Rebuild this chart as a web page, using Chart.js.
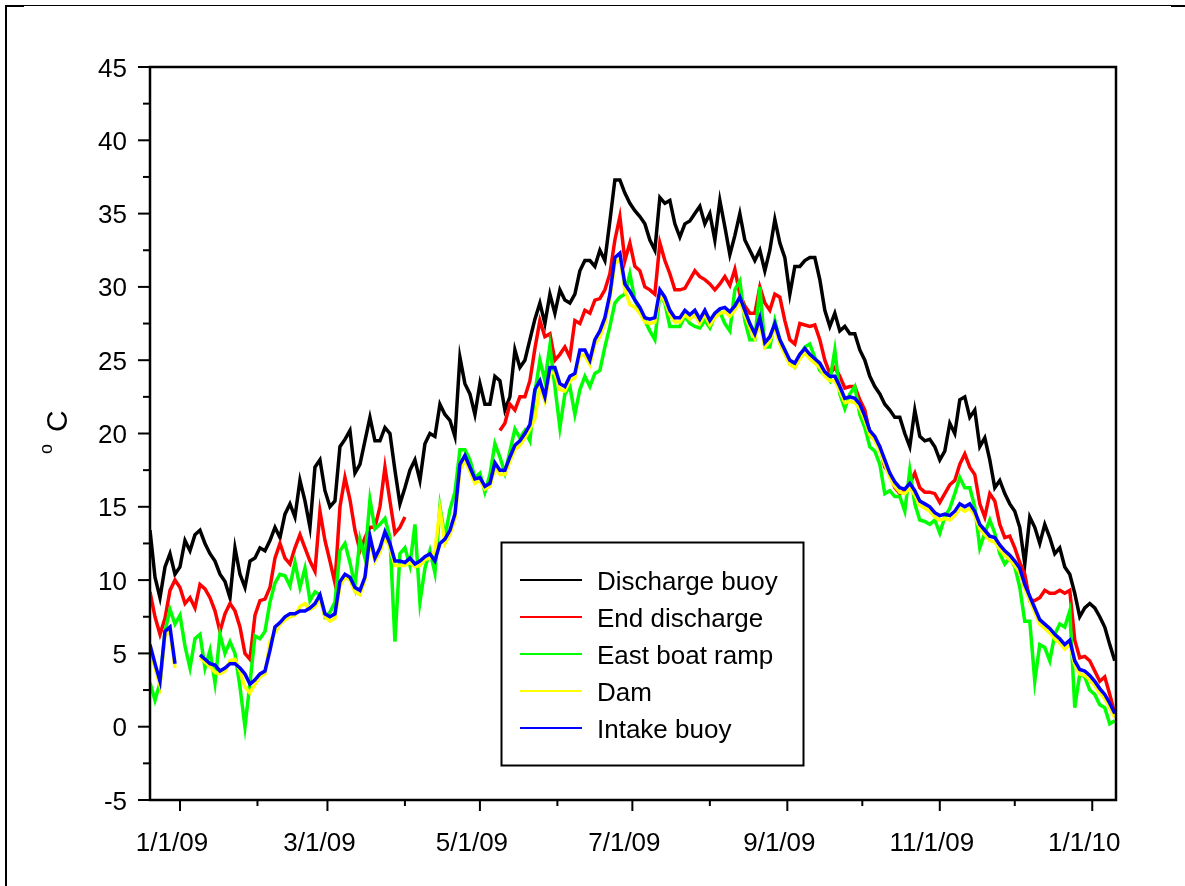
<!DOCTYPE html>
<html>
<head>
<meta charset="utf-8">
<script src="https://cdn.jsdelivr.net/npm/chart.js@4/dist/chart.umd.min.js"></script>
<style>
  html, body { margin: 0; padding: 0; background: #fff; }
  canvas { display: block; }
</style>
</head>
<body>
<canvas id="c" width="1185" height="886"></canvas>
<script>
// Water temperature (°C), sampled every 2 days starting 12 days before 1/1/09
const firstDay = -12;
const dayStep = 2;

const seriesNames = ['Discharge buoy', 'End discharge', 'East boat ramp', 'Dam', 'Intake buoy'];
const seriesColors = ['#000000', '#ff0000', '#00ff00', '#ffff00', '#0000ff'];

const dischargeBuoy = [
  13.4,10.2,8.8,10.9,11.8,10.4,10.9,12.7,12.0,13.1,
  13.4,12.5,11.8,11.3,10.4,9.9,8.8,12.2,10.4,9.5,
  11.3,11.5,12.2,12.0,12.7,13.6,12.9,14.5,15.2,14.3,
  16.8,15.4,13.6,17.7,18.2,16.1,15.0,15.4,19.1,19.6,
  20.2,17.3,17.9,19.5,21.1,19.5,19.5,20.4,20.0,17.5,
  15.2,16.3,17.5,18.2,16.8,19.3,20.0,19.8,22.0,21.3,
  20.9,19.8,25.2,23.4,22.7,21.3,23.4,22.0,22.0,23.9,
  23.6,21.6,22.5,25.7,24.5,25.0,26.4,27.8,28.9,27.5,
  29.5,28.2,29.8,29.1,28.9,29.5,31.1,31.8,31.8,31.4,
  32.5,31.8,34.5,37.3,37.3,36.4,35.7,35.2,34.8,34.3,
  33.2,32.5,36.1,35.7,35.9,34.3,33.4,34.3,34.5,35.0,
  35.5,34.3,35.0,33.2,35.9,34.1,32.2,33.5,35.0,33.2,
  32.5,31.8,32.5,31.1,32.5,34.6,33.0,32.0,29.5,31.4,
  31.4,31.8,32.0,32.0,30.5,28.4,27.3,28.2,27.0,27.3,
  26.8,26.8,25.7,25.0,23.9,23.2,22.7,22.0,21.6,21.1,
  21.1,20.0,19.1,21.6,19.8,19.5,19.6,19.1,18.2,18.8,
  20.7,20.0,22.3,22.5,21.1,21.6,19.1,19.7,18.2,16.3,
  16.8,15.9,15.2,14.7,13.6,11.1,14.3,13.6,12.5,13.8,
  12.9,11.8,12.2,10.9,10.4,9.1,7.5,8.1,8.4,8.1,
  7.5,6.8,5.6,4.5
];

const endDischarge = [
  9.2,7.5,6.3,7.4,9.3,10.0,9.5,8.4,8.8,8.1,
  9.7,9.4,8.8,7.9,6.5,7.7,8.4,7.9,6.8,5.0,
  4.6,7.6,8.6,8.7,9.5,11.5,12.5,11.5,11.1,12.2,
  13.1,12.2,11.3,10.6,14.7,12.7,11.3,9.8,15.0,17.0,
  15.5,13.4,12.0,12.9,13.6,13.6,15.0,17.7,15.4,13.2,
  13.6,14.3,null,null,null,null,null,null,null,null,
  null,null,null,null,null,null,null,null,null,null,
  20.2,20.7,22.0,21.6,22.5,22.5,23.6,25.8,27.7,26.6,
  26.8,25.0,25.4,25.9,25.2,27.7,27.5,28.4,28.2,29.1,
  29.2,29.8,30.9,33.2,34.8,31.8,33.0,31.4,31.1,30.0,
  29.8,29.5,33.0,31.8,30.9,29.8,29.8,29.9,30.5,31.1,
  30.7,30.5,30.2,29.8,30.2,30.7,30.1,31.2,29.5,28.7,
  28.2,28.2,30.0,28.9,28.4,29.5,29.3,27.7,26.4,26.1,
  27.5,27.4,27.3,27.4,26.4,25.0,24.1,24.5,23.9,23.1,
  23.2,23.2,22.3,21.6,20.0,19.6,19.1,17.7,17.3,16.3,
  15.9,16.1,16.6,17.3,16.3,16.0,16.0,15.9,15.3,15.9,
  16.5,16.8,17.9,18.6,17.7,17.2,15.2,14.3,15.9,15.4,
  13.8,12.9,13.0,12.2,11.2,10.4,8.6,8.6,8.8,9.3,
  9.1,9.1,9.3,9.1,9.3,5.9,4.7,4.8,4.5,3.8,
  3.1,3.4,2.2,0.9
];

const eastBoatRamp = [
  3.0,1.8,3.0,6.5,8.0,7.0,7.6,5.5,4.0,6.0,
  6.3,4.0,5.2,3.0,6.3,5.0,5.8,5.0,2.7,0.0,
  3.0,6.2,6.0,6.5,8.5,9.8,10.4,10.3,9.6,11.2,
  9.5,10.8,8.6,9.2,9.0,7.5,7.8,8.5,12.0,12.5,
  11.2,9.6,12.8,11.5,15.5,13.5,13.8,14.2,12.9,5.8,
  11.8,12.2,11.0,13.8,8.5,10.8,12.0,10.5,15.0,12.9,
  14.8,16.0,18.9,18.9,18.2,17.0,17.3,16.0,17.2,19.3,
  18.4,17.3,18.8,20.3,19.7,20.2,19.5,22.8,25.0,23.6,
  26.0,23.2,20.4,22.7,23.2,21.3,23.0,23.9,23.2,24.1,
  24.3,25.9,27.3,28.9,29.3,29.5,30.9,29.1,28.4,27.7,
  27.0,26.4,29.5,28.9,27.3,27.3,27.3,28.0,27.5,27.3,
  27.2,27.7,27.2,28.0,28.3,27.5,27.0,29.8,30.4,27.7,
  26.4,26.4,30.0,25.9,25.9,27.7,26.4,25.7,24.8,24.5,
  25.2,25.9,26.1,25.2,24.3,24.0,23.6,25.7,22.7,21.7,
  22.7,23.2,21.3,20.4,19.1,18.8,17.9,15.9,16.1,15.7,
  15.7,14.7,17.5,15.2,14.1,14.0,13.8,14.1,13.2,14.3,
  14.9,15.9,17.0,16.3,16.3,15.0,12.2,13.2,14.1,13.2,
  11.8,11.1,11.5,10.9,9.5,7.2,7.2,3.1,5.6,5.4,
  4.5,6.3,7.0,6.8,7.9,1.3,3.6,3.4,2.5,2.2,
  1.5,1.3,0.2,0.4
];

const dam = [
  5.3,4.0,2.8,6.2,6.5,4.0,null,null,null,null,
  4.7,4.4,4.1,3.7,3.6,3.8,4.5,4.6,3.8,2.7,
  2.3,2.9,3.4,3.6,5.8,6.4,7.0,7.3,7.5,7.6,
  8.2,8.4,8.0,8.2,8.8,7.5,7.2,7.4,9.6,10.2,
  10.0,9.2,9.0,10.0,12.7,11.3,11.9,13.0,12.2,11.0,
  11.0,11.0,11.2,10.9,11.0,11.4,11.5,12.0,14.8,12.5,
  13.1,14.2,17.5,18.2,17.4,16.6,16.8,16.2,16.4,17.7,
  17.2,17.2,18.1,18.9,19.2,19.7,20.3,21.0,23.2,22.2,
  24.2,24.1,23.0,22.9,23.6,23.8,25.4,25.3,24.7,26.1,
  26.6,27.5,29.2,31.6,31.9,29.8,28.8,28.6,28.2,27.6,
  27.5,27.6,29.5,29.0,28.1,27.6,27.6,28.1,27.8,28.1,
  27.5,28.1,27.4,27.9,28.2,28.3,28.0,28.4,29.0,28.1,
  27.2,26.5,27.6,25.9,26.3,27.2,26.1,25.4,24.7,24.5,
  25.1,25.5,25.1,24.8,24.5,23.9,23.6,23.6,22.9,22.1,
  22.2,22.1,21.7,20.9,19.9,19.5,18.8,17.9,17.0,16.4,
  16.0,15.9,16.3,15.8,15.1,14.9,14.7,14.3,14.1,14.2,
  14.1,14.4,14.9,14.7,14.9,14.4,13.5,13.1,12.7,12.6,
  12.1,11.7,11.4,11.0,10.5,9.4,8.6,7.8,7.0,6.7,
  6.4,6.0,5.7,5.3,5.6,4.2,3.6,3.5,3.2,2.8,
  2.3,1.9,1.3,0.6
];

const intakeBuoy = [
  5.6,4.3,3.1,6.5,6.8,4.3,null,null,null,null,
  4.9,4.6,4.3,4.2,3.8,4.0,4.3,4.3,4.0,3.6,
  2.9,3.2,3.6,3.8,5.2,6.8,7.1,7.5,7.7,7.7,
  7.9,7.9,8.1,8.4,9.0,7.7,7.5,7.7,9.9,10.4,
  10.2,9.5,9.3,10.2,13.0,11.5,12.2,13.3,12.5,11.3,
  11.3,11.2,11.5,11.1,11.3,11.6,11.8,11.3,12.5,12.8,
  13.4,14.5,17.9,18.5,17.7,16.9,17.0,16.4,16.6,18.0,
  17.5,17.5,18.4,19.2,19.5,20.0,20.6,23.0,23.6,22.5,
  24.5,24.5,23.4,23.2,23.9,24.1,25.7,25.7,25.0,26.4,
  27.0,27.9,29.5,32.0,32.3,30.2,29.7,29.1,28.6,27.9,
  27.8,27.9,29.8,29.3,28.4,27.9,27.9,28.4,28.1,28.4,
  27.8,28.4,27.7,28.2,28.5,28.6,28.3,28.7,29.3,28.4,
  27.5,26.8,27.9,26.2,26.6,27.5,26.4,25.7,25.0,24.8,
  25.4,25.8,25.4,25.1,24.8,24.2,23.9,23.9,23.2,22.4,
  22.5,22.4,22.0,21.2,20.2,19.8,19.1,18.2,17.3,16.7,
  16.3,16.2,16.6,16.1,15.4,15.2,15.0,14.6,14.4,14.5,
  14.4,14.7,15.2,15.0,15.2,14.7,13.8,13.4,13.0,12.9,
  12.4,12.0,11.7,11.3,10.8,9.7,8.9,8.1,7.3,7.0,
  6.7,6.3,6.0,5.6,5.9,4.5,3.9,3.8,3.5,3.1,
  2.6,2.2,1.6,0.9
];

// Axis ticks: day offsets of month starts (from 1/1/09) and their labels
const monthStartDays = [0, 31, 59, 90, 120, 151, 181, 212, 243, 273, 304, 334, 365];
const monthLabels = ['1/1/09', '', '3/1/09', '', '5/1/09', '', '7/1/09', '', '9/1/09', '', '11/1/09', '', '1/1/10'];
const yTickValues = [-5, 0, 5, 10, 15, 20, 25, 30, 35, 40, 45];

const allSeries = [dischargeBuoy, endDischarge, eastBoatRamp, dam, intakeBuoy];
const days = dischargeBuoy.map((_, i) => firstDay + i * dayStep);

const FONT = '"Liberation Sans", Arial, Helvetica, sans-serif';

// Frame, ticks, labels, legend and page border drawn on top of the plotted lines
const decorations = {
  id: 'decorations',
  beforeDraw(chart) {
    const ctx = chart.ctx;
    ctx.save();
    ctx.fillStyle = '#ffffff';
    ctx.fillRect(0, 0, chart.width, chart.height);
    ctx.restore();
  },
  afterDraw(chart) {
    const { ctx, chartArea: a, scales } = chart;
    const xs = scales.x, ys = scales.y;
    ctx.save();
    ctx.fillStyle = '#000';
    ctx.strokeStyle = '#000';

    // page border
    ctx.fillRect(5, 5, 1167, 1);
    ctx.fillRect(5, 5, 2, 881);
    ctx.fillRect(5, 5, 19, 2);
    ctx.fillRect(1171, 5, 14, 2);

    // plot frame
    ctx.lineWidth = 2.5;
    ctx.strokeRect(a.left, a.top, a.right - a.left, a.bottom - a.top);

    // y ticks (major + minor) and labels
    ctx.lineWidth = 2;
    ctx.font = '26px ' + FONT;
    ctx.textAlign = 'right';
    ctx.textBaseline = 'alphabetic';
    yTickValues.forEach((v, i) => {
      const py = ys.getPixelForValue(v);
      ctx.beginPath();
      ctx.moveTo(a.left - 12, py);
      ctx.lineTo(a.left, py);
      ctx.stroke();
      ctx.fillText(String(v), 127, py + 9.5);
      if (i < yTickValues.length - 1) {
        const pm = ys.getPixelForValue((v + yTickValues[i + 1]) / 2);
        ctx.beginPath();
        ctx.moveTo(a.left - 7, pm);
        ctx.lineTo(a.left, pm);
        ctx.stroke();
      }
    });

    // x ticks and labels
    ctx.textAlign = 'center';
    monthStartDays.forEach((d, i) => {
      const px = xs.getPixelForValue(d);
      const major = monthLabels[i] !== '';
      ctx.beginPath();
      ctx.moveTo(px, a.bottom);
      ctx.lineTo(px, a.bottom + (major ? 11 : 6));
      ctx.stroke();
      if (major) ctx.fillText(monthLabels[i], px - 8, 851);
    });

    // y axis title: superscript degree sign and C, rotated
    ctx.save();
    ctx.translate(62, 430);
    ctx.rotate(-Math.PI / 2);
    ctx.textAlign = 'left';
    ctx.font = '18px ' + FONT;
    ctx.fillText('o', -24, -10);
    ctx.font = '30px ' + FONT;
    ctx.fillText('C', -2, 5);
    ctx.restore();

    // legend
    const lx = 501, ly = 542, lw = 302, lh = 223;
    ctx.fillStyle = '#fff';
    ctx.fillRect(lx, ly, lw, lh);
    ctx.lineWidth = 2;
    ctx.strokeStyle = '#000';
    ctx.strokeRect(lx + 0.5, ly + 0.5, lw, lh);
    ctx.font = '26px ' + FONT;
    ctx.textAlign = 'left';
    seriesNames.forEach((name, i) => {
      const ry = 580 + i * 37;
      ctx.strokeStyle = seriesColors[i];
      ctx.lineWidth = 2;
      ctx.beginPath();
      ctx.moveTo(520, ry);
      ctx.lineTo(582, ry);
      ctx.stroke();
      ctx.fillStyle = '#000';
      ctx.fillText(name, 597, ry + 10);
    });
    ctx.restore();
  }
};

const datasets = allSeries.map((vals, i) => ({
  label: seriesNames[i],
  data: vals.map((v, j) => ({ x: days[j], y: v })),
  borderColor: seriesColors[i],
  backgroundColor: seriesColors[i],
  borderWidth: 3.5,
  borderJoinStyle: 'miter',
  pointRadius: 0,
  tension: 0,
  fill: false,
  spanGaps: false,
  order: 5 - i
}));

new Chart(document.getElementById('c'), {
  type: 'line',
  data: { datasets },
  options: {
    responsive: false,
    animation: false,
    devicePixelRatio: 1,
    layout: { padding: { left: 150, top: 67, right: 69, bottom: 86 } },
    scales: {
      x: { type: 'linear', min: -12, max: 374.5, display: false },
      y: { type: 'linear', min: -5, max: 45, display: false }
    },
    plugins: {
      legend: { display: false },
      tooltip: { enabled: false }
    }
  },
  plugins: [decorations]
});
</script>
</body>
</html>
